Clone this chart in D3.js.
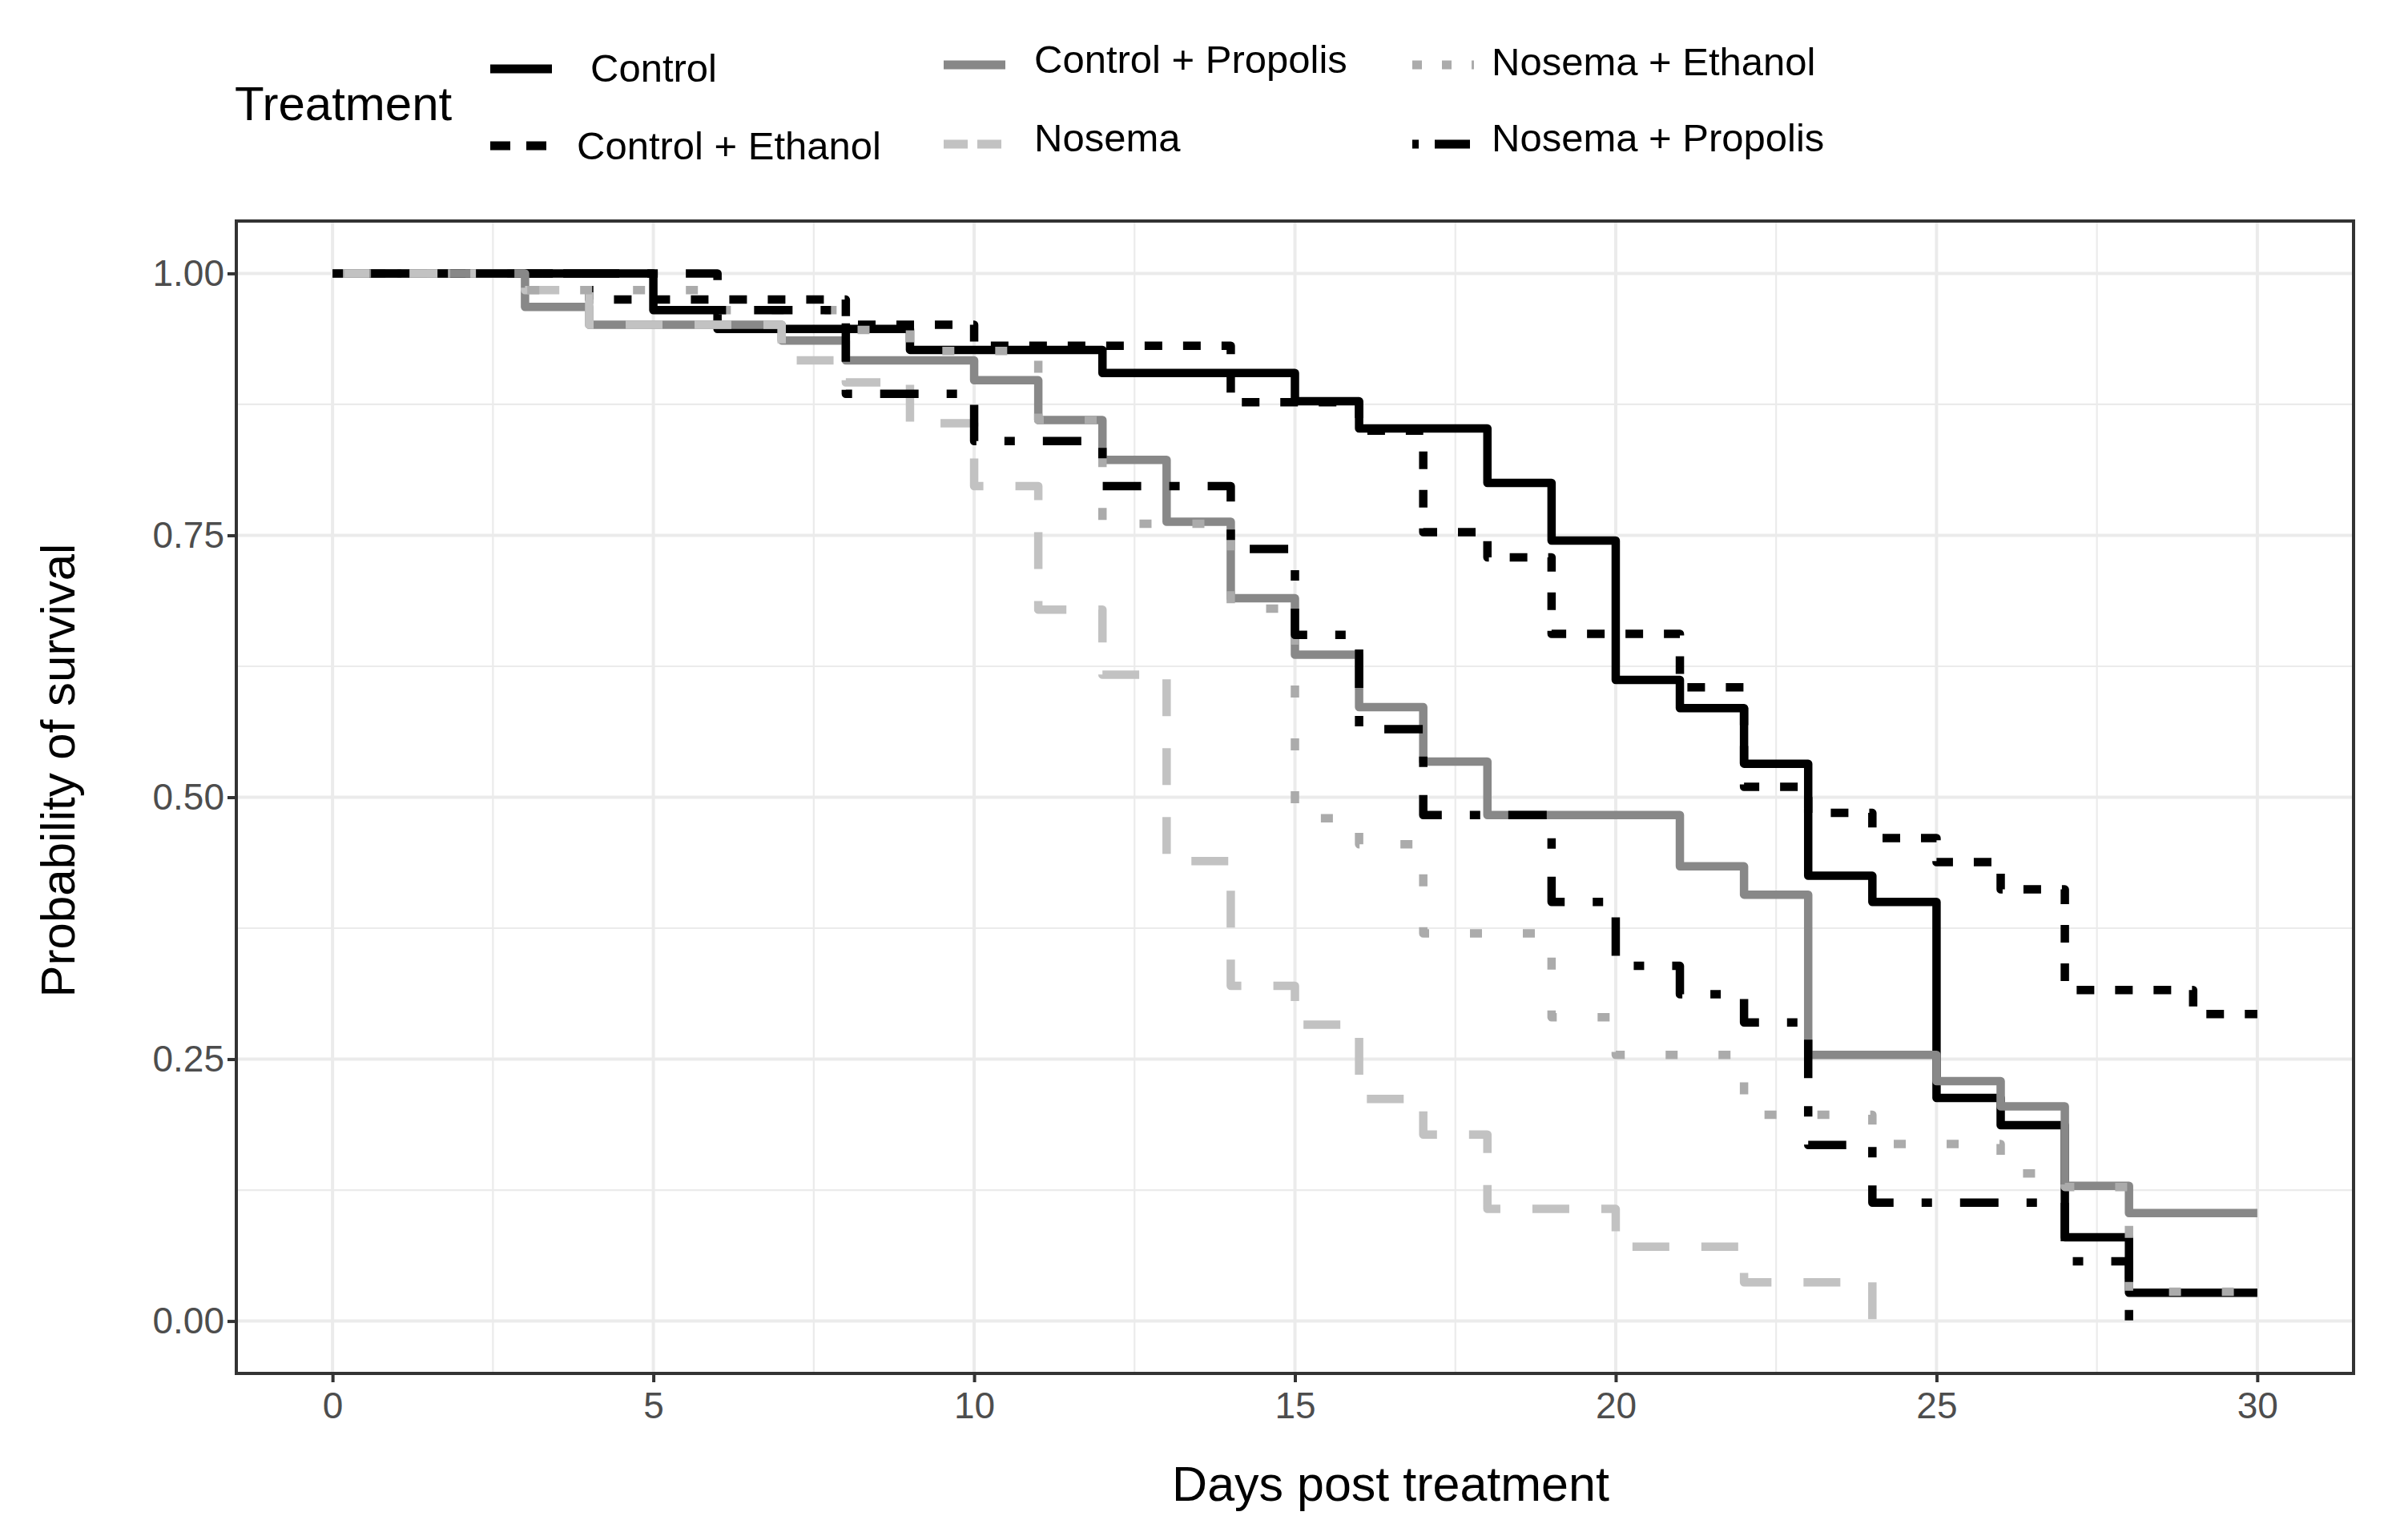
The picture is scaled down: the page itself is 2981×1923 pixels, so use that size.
<!DOCTYPE html>
<html>
<head>
<meta charset="utf-8">
<title>Survival by treatment</title>
<script src="https://d3js.org/d3.v7.min.js"></script>
<style>
	body {
		margin: 0;
		background: #fff;
		font-family: "Liberation Sans", Arial, sans-serif;
	}

	.grid line {
		stroke: #ebebeb;
	}

	.curve {
		fill: none;
		stroke-width: 10.5px;
		stroke-linejoin: round;
		stroke-linecap: butt;
	}

	.axis text {
		fill: #4d4d4d;
		font-size: 46px;
		font-family: "Liberation Sans", Arial, sans-serif;
	}

	.axis line {
		stroke: #333;
		stroke-width: 4px;
	}
</style>
</head>
<body>
</body>
<script>
	var width = 2981,
			height = 1923;

	// plot panel, in page pixels
	var panel = { left: 295, right: 2938, top: 276, bottom: 1715 };

	var treatments = ["Control", "Control + Ethanol", "Control + Propolis", "Nosema", "Nosema + Ethanol", "Nosema + Propolis"];

	// Kaplan-Meier steps: day of each step and survival after it
	var controlDays = [0, 5, 6, 9, 12, 15, 16, 18, 19, 20, 21, 22, 23, 24, 25, 26, 27, 28, 30];
	var controlSurv = [1, 0.965, 0.947, 0.927, 0.905, 0.878, 0.852, 0.80, 0.745, 0.612, 0.585, 0.532, 0.425, 0.40, 0.213, 0.187, 0.08, 0.027, 0.027];

	var ethanolDays = [0, 4, 8, 10, 14, 16, 17, 18, 19, 21, 22, 23, 24, 25, 26, 27, 29, 30];
	var ethanolSurv = [1, 0.975, 0.951, 0.931, 0.877, 0.85, 0.753, 0.729, 0.656, 0.605, 0.51, 0.485, 0.461, 0.438, 0.412, 0.316, 0.293, 0.293];

	var propolisDays = [0, 3, 4, 7, 8, 10, 11, 12, 13, 14, 15, 16, 17, 18, 21, 22, 23, 25, 26, 27, 28, 30];
	var propolisSurv = [1, 0.968, 0.951, 0.936, 0.917, 0.898, 0.86, 0.822, 0.763, 0.69, 0.636, 0.586, 0.534, 0.483, 0.434, 0.407, 0.254, 0.229, 0.205, 0.129, 0.103, 0.103];

	var nosemaDays = [0, 3, 4, 7, 8, 9, 10, 11, 12, 13, 14, 15, 16, 17, 18, 20, 22, 24];
	var nosemaSurv = [1, 0.984, 0.951, 0.917, 0.896, 0.857, 0.797, 0.679, 0.617, 0.439, 0.32, 0.283, 0.212, 0.178, 0.107, 0.071, 0.037, 0];

	var nosemaEthanolDays = [0, 3, 6, 8, 9, 11, 12, 14, 15, 16, 17, 19, 20, 22, 24, 26, 27, 28, 30];
	var nosemaEthanolSurv = [1, 0.984, 0.965, 0.946, 0.926, 0.86, 0.761, 0.68, 0.48, 0.455, 0.37, 0.29, 0.254, 0.197, 0.169, 0.141, 0.128, 0.028, 0.028];

	var nosemaPropolisDays = [0, 6, 8, 10, 12, 14, 15, 16, 17, 19, 20, 21, 22, 23, 24, 27, 28];
	var nosemaPropolisSurv = [1, 0.965, 0.885, 0.84, 0.797, 0.737, 0.655, 0.565, 0.483, 0.40, 0.339, 0.312, 0.285, 0.168, 0.113, 0.057, 0];

	var xTicks = [0, 5, 10, 15, 20, 25, 30];
	var yTicks = [0, 0.25, 0.5, 0.75, 1];

	var series = [
		{ name: treatments[0], days: controlDays, surv: controlSurv, color: "#000", dash: null, keyDash: null },
		{ name: treatments[1], days: ethanolDays, surv: ethanolSurv, color: "#000", dash: "22,26", keyDash: "25,20" },
		{ name: treatments[2], days: propolisDays, surv: propolisSurv, color: "#888", dash: null, keyDash: null },
		{ name: treatments[3], days: nosemaDays, surv: nosemaSurv, color: "#c2c2c2", dash: "46,40", keyDash: "30,12" },
		{ name: treatments[4], days: nosemaEthanolDays, surv: nosemaEthanolSurv, color: "#ababab", dash: "15,51", keyDash: "12,25" },
		{ name: treatments[5], days: nosemaPropolisDays, surv: nosemaPropolisSurv, color: "#000", dash: "13,35,48,35", keyDash: "8,20,44,20" }
	];

	var x = d3.scaleLinear()
			.domain([-1.5, 31.5])
			.range([panel.left, panel.right]);

	var y = d3.scaleLinear()
			.domain([-0.05, 1.05])
			.range([panel.bottom, panel.top]);

	var svg = d3.select("body").append("svg")
			.attr("width", width)
			.attr("height", height);

	////////////////////////////////////////////////////////////
	// grid
	var grid = svg.append("g").attr("class", "grid");

	grid.selectAll("line.minor-x")
			.data(d3.range(2.5, 30, 5))
		.enter().append("line")
			.attr("x1", function(d) { return x(d); })
			.attr("x2", function(d) { return x(d); })
			.attr("y1", panel.top)
			.attr("y2", panel.bottom)
			.style("stroke-width", 2.2);

	grid.selectAll("line.minor-y")
			.data(d3.range(0.125, 1, 0.25))
		.enter().append("line")
			.attr("x1", panel.left)
			.attr("x2", panel.right)
			.attr("y1", function(d) { return y(d); })
			.attr("y2", function(d) { return y(d); })
			.style("stroke-width", 2.2);

	grid.selectAll("line.major-x")
			.data(xTicks)
		.enter().append("line")
			.attr("x1", function(d) { return x(d); })
			.attr("x2", function(d) { return x(d); })
			.attr("y1", panel.top)
			.attr("y2", panel.bottom)
			.style("stroke-width", 4);

	grid.selectAll("line.major-y")
			.data(yTicks)
		.enter().append("line")
			.attr("x1", panel.left)
			.attr("x2", panel.right)
			.attr("y1", function(d) { return y(d); })
			.attr("y2", function(d) { return y(d); })
			.style("stroke-width", 4);

	////////////////////////////////////////////////////////////
	// survival curves
	var line = d3.line()
			.curve(d3.curveStepAfter)
			.x(function(d) { return x(d[0]); })
			.y(function(d) { return y(d[1]); });

	svg.append("g").selectAll("path")
			.data(series)
		.enter().append("path")
			.attr("class", "curve")
			.attr("d", function(s) { return line(d3.zip(s.days, s.surv)); })
			.style("stroke", function(s) { return s.color; })
			.style("stroke-dasharray", function(s) { return s.dash; });

	////////////////////////////////////////////////////////////
	// axes and frame
	svg.append("g")
			.attr("class", "axis")
			.attr("transform", "translate(0," + panel.bottom + ")")
			.call(d3.axisBottom(x).tickValues(xTicks).tickSize(11).tickPadding(12))
			.call(function(g) { g.select(".domain").remove(); });

	svg.append("g")
			.attr("class", "axis")
			.attr("transform", "translate(" + panel.left + ",0)")
			.call(d3.axisLeft(y).tickValues(yTicks).tickFormat(d3.format(".2f")).tickSize(11).tickPadding(4))
			.call(function(g) { g.select(".domain").remove(); });

	svg.append("rect")
			.attr("x", panel.left)
			.attr("y", panel.top)
			.attr("width", panel.right - panel.left)
			.attr("height", panel.bottom - panel.top)
			.style("fill", "none")
			.style("stroke", "#333")
			.style("stroke-width", 4);

	svg.append("text")
			.attr("x", 1736)
			.attr("y", 1874)
			.attr("text-anchor", "middle")
			.style("font-size", "61px")
			.text("Days post treatment");

	svg.append("text")
			.attr("transform", "translate(93,962) rotate(-90)")
			.attr("text-anchor", "middle")
			.style("font-size", "60px")
			.text("Probability of survival");

	////////////////////////////////////////////////////////////
	// legend
	var legend = svg.append("g");

	legend.append("text")
			.attr("x", 293)
			.attr("y", 150)
			.style("font-size", "60px")
			.text("Treatment");

	// key start x, key y, label x, label baseline
	var keyPos = [
		[612, 86, 737, 102],
		[612, 182, 720, 199],
		[1178, 81, 1291, 91],
		[1178, 180, 1291, 189],
		[1763, 81, 1862, 94],
		[1763, 180, 1862, 189]
	];

	var item = legend.selectAll("g.item")
			.data(series)
		.enter().append("g")
			.attr("class", "item");

	item.append("line")
			.attr("x1", function(d, i) { return keyPos[i][0]; })
			.attr("x2", function(d, i) { return keyPos[i][0] + 77; })
			.attr("y1", function(d, i) { return keyPos[i][1]; })
			.attr("y2", function(d, i) { return keyPos[i][1]; })
			.style("stroke", function(d) { return d.color; })
			.style("stroke-width", 11)
			.style("stroke-dasharray", function(d) { return d.keyDash; });

	item.append("text")
			.attr("x", function(d, i) { return keyPos[i][2]; })
			.attr("y", function(d, i) { return keyPos[i][3]; })
			.style("font-size", "49px")
			.text(function(d) { return d.name; });

</script>
</html>
